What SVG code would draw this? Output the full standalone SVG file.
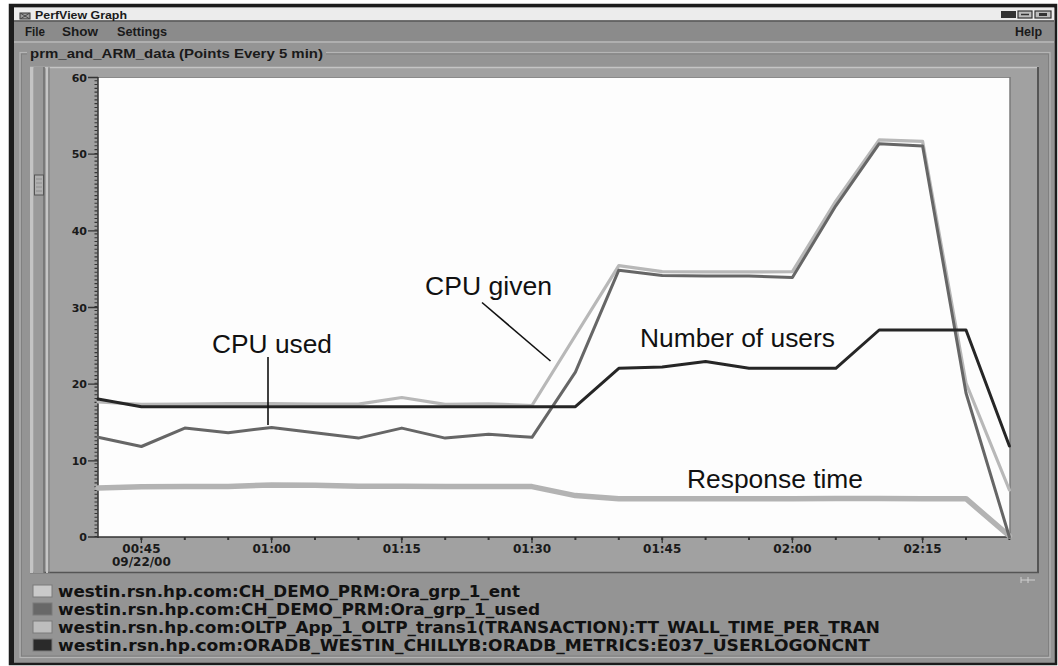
<svg xmlns="http://www.w3.org/2000/svg" width="1058" height="666" viewBox="0 0 1058 666">
<style>
.ui{font-family:"Liberation Sans",Arial,sans-serif;font-weight:bold;fill:#1a1a1a}
.ax{font-family:"DejaVu Sans",sans-serif;font-weight:bold;fill:#1a1a1a}
.lg{font-family:"DejaVu Sans",sans-serif;font-weight:bold;fill:#111;font-size:15.5px}
.ann{font-family:"Liberation Sans",Arial,sans-serif;font-size:26px;fill:#111}
.s{fill:none;stroke-linejoin:round;stroke-linecap:round}
.lead{stroke:#111;stroke-width:1.6;fill:none}
</style>
<rect width="1058" height="666" fill="#ffffff"/>
<g id="window">
  <rect x="10" y="5" width="1046" height="659" fill="#949494"/>
  <rect x="10" y="5" width="1046" height="659" fill="none" stroke="#1c1c1c" stroke-width="2.5"/>
  <rect x="10" y="5" width="4" height="659" fill="#1c1c1c"/>
  <rect x="10" y="5" width="1046" height="2.5" fill="#1c1c1c"/>
  <rect x="14" y="7.5" width="1040" height="13" fill="#ececec"/>
  <line x1="14" y1="21" x2="1054" y2="21" stroke="#555" stroke-width="1.5"/>
  <rect x="14" y="22" width="1040" height="19" fill="#8b8b8b"/>
  <line x1="14" y1="42" x2="1054" y2="42" stroke="#b8b8b8" stroke-width="1.5"/>
  <rect x="20" y="13" width="10" height="6" fill="#9a9a9a" stroke="#333" stroke-width="1"/>
  <path d="M21 13.5 L29 18.5 M29 13.5 L21 18.5" stroke="#333" stroke-width="0.8"/>
  <text class="ui" x="35" y="18.5" font-size="11" textLength="92" lengthAdjust="spacingAndGlyphs">PerfView Graph</text>
  <rect x="1001" y="11" width="15" height="7" fill="#333"/>
  <rect x="1018" y="11" width="14" height="7" fill="#bbb" stroke="#333" stroke-width="1.2"/>
  <line x1="1021" y1="14.5" x2="1029" y2="14.5" stroke="#333" stroke-width="1.5"/>
  <rect x="1035" y="11" width="16" height="7" fill="#bbb" stroke="#333" stroke-width="1.2"/>
  <rect x="1039" y="13" width="8" height="3" fill="#333"/>
  <text class="ui" x="25" y="36" font-size="12" textLength="20" lengthAdjust="spacingAndGlyphs">File</text>
  <text class="ui" x="62" y="36" font-size="12" textLength="36" lengthAdjust="spacingAndGlyphs">Show</text>
  <text class="ui" x="117" y="36" font-size="12" textLength="50" lengthAdjust="spacingAndGlyphs">Settings</text>
  <text class="ui" x="1015" y="36" font-size="12" textLength="27" lengthAdjust="spacingAndGlyphs">Help</text>
  <rect x="20" y="52.5" width="1030" height="605" fill="none" stroke="#b5b5b5" stroke-width="1.2"/>
  <rect x="21.5" y="54" width="1027" height="602" fill="none" stroke="#7c7c7c" stroke-width="0.8"/>
  <rect x="27" y="46" width="299" height="14" fill="#949494"/>
  <text class="ui" x="30" y="58" font-size="13.5" textLength="293" lengthAdjust="spacingAndGlyphs">prm_and_ARM_data (Points Every 5 min)</text>
</g>
<g id="chart-panel">
  <rect x="30" y="67" width="1009" height="506" fill="#a1a1a1"/>
  <line x1="30" y1="67.5" x2="1039" y2="67.5" stroke="#c4c4c4" stroke-width="1.5"/>
  <line x1="1038" y1="67" x2="1038" y2="573" stroke="#555" stroke-width="2"/>
  <line x1="30" y1="572.5" x2="1039" y2="572.5" stroke="#555" stroke-width="1.5"/>
  <rect x="30" y="67" width="3.5" height="506" fill="#c4c4c4"/>
  <rect x="33.5" y="67" width="10.5" height="506" fill="#9a9a9a"/>
  <line x1="44" y1="67" x2="44" y2="573" stroke="#6e6e6e" stroke-width="1.5"/>
  <line x1="47" y1="67" x2="47" y2="573" stroke="#c6c6c6" stroke-width="2"/>
  <line x1="49" y1="67" x2="49" y2="573" stroke="#7a7a7a" stroke-width="1"/>
  <rect x="34.5" y="175" width="9" height="20" fill="#b0b0b0" stroke="#555" stroke-width="1"/>
  <path d="M36 179 H42 M36 183 H42 M36 187 H42 M36 191 H42" stroke="#888" stroke-width="0.8"/>
  <path d="M1021 577 V583 M1021 580 H1028 M1028 577 V583 M1028 580 H1035" stroke="#cfcfcf" stroke-width="1"/>
</g>
<g id="plot">
  <rect x="98" y="77" width="912" height="460" fill="#fdfdfd"/>
  <line x1="98" y1="77.5" x2="1010" y2="77.5" stroke="#8a8a8a" stroke-width="1.2"/>
  <line x1="1010" y1="77" x2="1010" y2="537" stroke="#7a7a7a" stroke-width="1.5"/>
  <line x1="98" y1="77" x2="98" y2="538" stroke="#333" stroke-width="1.5"/>
  <line x1="98" y1="537" x2="1010" y2="537" stroke="#333" stroke-width="1.5"/>
  <line x1="96" y1="537" x2="96" y2="77" stroke="#333" stroke-width="3" stroke-dasharray="1.1 2.73"/>
  <path d="M88 77.5 H98 M88 154.2 H98 M88 230.8 H98 M88 307.5 H98 M88 384.2 H98 M88 460.8 H98 M88 537 H98" stroke="#333" stroke-width="1.3"/>
  <g class="ax" font-size="11" text-anchor="end">
    <text x="87" y="81.5">60</text>
    <text x="87" y="158.2">50</text>
    <text x="87" y="234.8">40</text>
    <text x="87" y="311.5">30</text>
    <text x="87" y="388.2">20</text>
    <text x="87" y="464.8">10</text>
    <text x="87" y="541">0</text>
  </g>
  <path d="M141.4 537 V540 M184.8 537 V540 M228.2 537 V540 M271.6 537 V540 M315 537 V540 M358.4 537 V540 M401.8 537 V540 M445.2 537 V540 M488.6 537 V540 M532 537 V540 M575.4 537 V540 M618.8 537 V540 M662.2 537 V540 M705.6 537 V540 M749 537 V540 M792.4 537 V540 M835.8 537 V540 M879.2 537 V540 M922.6 537 V540 M966 537 V540 M1009.4 537 V540" stroke="#333" stroke-width="2"/>
  <path d="M141.4 537 V543 M271.6 537 V543 M401.8 537 V543 M532 537 V543 M662.2 537 V543 M792.4 537 V543 M922.6 537 V543" stroke="#333" stroke-width="1.3"/>
  <g class="ax" font-size="12" text-anchor="middle">
    <text x="141.4" y="553">00:45</text>
    <text x="141.4" y="566">09/22/00</text>
    <text x="271.6" y="553">01:00</text>
    <text x="401.8" y="553">01:15</text>
    <text x="532" y="553">01:30</text>
    <text x="662.2" y="553">01:45</text>
    <text x="792.4" y="553">02:00</text>
    <text x="922.6" y="553">02:15</text>
  </g>
</g>
<g id="series">
  <polyline id="response-time" class="s" stroke="#b3b3b3" stroke-width="5.5" points="98,488 141.4,486.8 184.8,486.6 228.2,486.4 271.6,485 315,485.2 358.4,486.2 401.8,486.2 445.2,486.4 488.6,486.4 532,486.6 575.4,495.6 618.8,498.7 662.2,498.7 705.6,498.7 749,498.7 792.4,498.7 835.8,498.5 879.2,498.5 922.6,498.7 966,498.7 1009.4,536"/>
  <polyline id="cpu-given" class="s" stroke="#b8b8b8" stroke-width="3.2" points="98,402 141.4,404.4 184.8,404.2 228.2,403.6 271.6,403.6 315,404.2 358.4,404.2 401.8,397.5 445.2,404.4 488.6,403.8 532,405.5 575.4,335.5 618.8,265.6 662.2,271.7 705.6,271.9 749,271.9 792.4,271.7 835.8,201.2 879.2,139.8 922.6,141.4 966,383 1009.4,490"/>
  <polyline id="cpu-used" class="s" stroke="#666666" stroke-width="3" points="98,437.3 141.4,446.5 184.8,428.1 228.2,432.7 271.6,427.4 315,432.7 358.4,438.1 401.8,428.1 445.2,438.1 488.6,434.3 532,437.3 575.4,372.2 618.8,270.2 662.2,275.5 705.6,276 749,276 792.4,277.5 835.8,205.8 879.2,143.7 922.6,146 966,393 1009.4,537"/>
  <polyline id="users" class="s" stroke="#262626" stroke-width="3" points="98,399 141.4,406.7 184.8,406.7 228.2,406.7 271.6,406.7 315,406.7 358.4,406.7 401.8,406.7 445.2,406.7 488.6,406.7 532,406.7 575.4,406.7 618.8,368.3 662.2,367 705.6,361.5 749,368.3 792.4,368.3 835.8,368.3 879.2,330 922.6,330 966,330 1009.4,446"/>
</g>
<g id="connectors">
  <line class="lead" x1="268" y1="357" x2="268" y2="425"/>
  <line class="lead" x1="482" y1="302.5" x2="550.5" y2="361"/>
</g>
<g id="label-cpu-used"><text class="ann" x="212" y="353" textLength="120" lengthAdjust="spacingAndGlyphs">CPU used</text></g>
<g id="label-cpu-given"><text class="ann" x="425" y="295" textLength="127" lengthAdjust="spacingAndGlyphs">CPU given</text></g>
<g id="label-users"><text class="ann" x="640" y="347" textLength="195" lengthAdjust="spacingAndGlyphs">Number of users</text></g>
<g id="label-response"><text class="ann" x="687" y="488" textLength="176" lengthAdjust="spacingAndGlyphs">Response time</text></g>
<g id="legend">
  <rect x="33" y="585" width="19" height="12" fill="#c9c9c9" stroke="#7a7a7a" stroke-width="1"/>
  <text class="lg" x="58" y="596.5" textLength="462" lengthAdjust="spacingAndGlyphs">westin.rsn.hp.com:CH_DEMO_PRM:Ora_grp_1_ent</text>
  <rect x="33" y="603" width="19" height="12" fill="#686868" stroke="#7a7a7a" stroke-width="1"/>
  <text class="lg" x="58" y="614.5" textLength="482" lengthAdjust="spacingAndGlyphs">westin.rsn.hp.com:CH_DEMO_PRM:Ora_grp_1_used</text>
  <rect x="33" y="621" width="19" height="12" fill="#bdbdbd" stroke="#7a7a7a" stroke-width="1"/>
  <text class="lg" x="58" y="632.5" textLength="822" lengthAdjust="spacingAndGlyphs">westin.rsn.hp.com:OLTP_App_1_OLTP_trans1(TRANSACTION):TT_WALL_TIME_PER_TRAN</text>
  <rect x="33" y="639" width="19" height="12" fill="#2a2a2a" stroke="#7a7a7a" stroke-width="1"/>
  <text class="lg" x="58" y="650.5" textLength="812" lengthAdjust="spacingAndGlyphs">westin.rsn.hp.com:ORADB_WESTIN_CHILLYB:ORADB_METRICS:E037_USERLOGONCNT</text>
</g>
</svg>
